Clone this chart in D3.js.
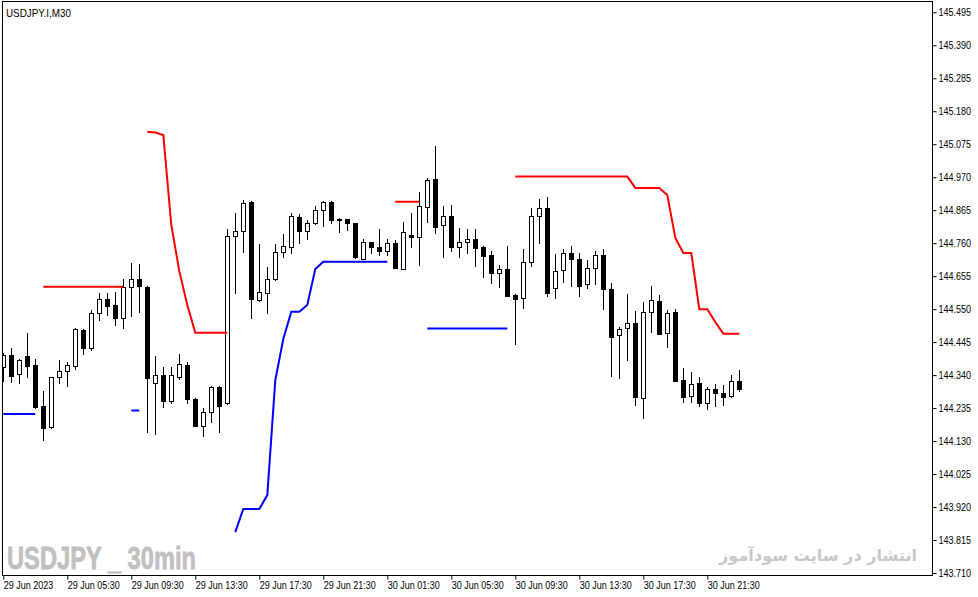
<!DOCTYPE html>
<html><head><meta charset="utf-8">
<script src="https://cdn.jsdelivr.net/npm/d3@7"></script>
<style>html,body{margin:0;padding:0;background:#fff;overflow:hidden}</style>
</head><body><svg id="c" width="978" height="597"></svg>
<script>
const symbolLabel = "USDJPY.I,M30";
const watermarkLeft = "USDJPY _ 30min";
const watermarkRight = "انتشار در سایت سودآموز";
const timeLabels = ["29 Jun 2023","29 Jun 05:30","29 Jun 09:30","29 Jun 13:30","29 Jun 17:30","29 Jun 21:30","30 Jun 01:30","30 Jun 05:30","30 Jun 09:30","30 Jun 13:30","30 Jun 17:30","30 Jun 21:30"];
const priceTicks = [145.495,145.390,145.285,145.180,145.075,144.970,144.865,144.760,144.655,144.550,144.445,144.340,144.235,144.130,144.025,143.920,143.815,143.710];

const open = [144.367,144.404,144.343,144.401,144.372,144.242,144.174,144.333,144.352,144.370,
144.483,144.427,144.537,144.581,144.563,144.523,144.621,144.646,144.622,144.314,
144.340,144.259,144.335,144.372,144.264,144.179,144.222,144.301,144.250,144.784,
144.798,144.890,144.579,144.602,144.645,144.731,144.749,144.842,144.800,144.823,
144.866,144.890,144.837,144.836,144.823,144.710,144.763,144.749,144.736,144.760,
144.679,144.785,144.781,144.874,144.963,144.817,144.846,144.749,144.763,144.773,
144.747,144.722,144.666,144.677,144.595,144.584,144.699,144.847,144.871,144.617,
144.674,144.728,144.709,144.629,144.680,144.722,144.613,144.467,144.489,144.505,
144.266,144.540,144.576,144.473,144.541,144.323,144.273,144.314,144.250,144.295,
144.283,144.273,144.320];
const high = [144.410,144.426,144.391,144.473,144.390,144.289,144.335,144.388,144.381,144.489,
144.488,144.547,144.602,144.602,144.603,144.645,144.696,144.693,144.625,144.401,
144.367,144.367,144.407,144.381,144.267,144.234,144.305,144.305,144.804,144.855,
144.897,144.895,144.757,144.685,144.757,144.789,144.857,144.853,144.834,144.878,
144.895,144.893,144.839,144.837,144.824,144.773,144.765,144.804,144.773,144.770,
144.827,144.855,144.922,144.967,145.069,144.879,144.882,144.807,144.804,144.804,
144.750,144.735,144.689,144.751,144.598,144.741,144.871,144.900,144.908,144.726,
144.741,144.751,144.728,144.707,144.735,144.741,144.632,144.493,144.598,144.544,
144.574,144.625,144.595,144.547,144.550,144.362,144.349,144.335,144.303,144.312,
144.309,144.339,144.356];
const low = [144.321,144.319,144.316,144.335,144.236,144.135,144.171,144.314,144.306,144.359,
144.407,144.420,144.515,144.532,144.499,144.491,144.528,144.542,144.158,144.154,
144.239,144.252,144.329,144.252,144.177,144.147,144.192,144.160,144.247,144.602,
144.733,144.521,144.577,144.539,144.644,144.717,144.730,144.762,144.772,144.822,
144.815,144.825,144.797,144.802,144.714,144.709,144.730,144.722,144.722,144.681,
144.677,144.749,144.690,144.828,144.791,144.717,144.736,144.717,144.730,144.688,
144.651,144.632,144.619,144.592,144.438,144.553,144.688,144.762,144.593,144.584,
144.637,144.624,144.593,144.617,144.629,144.549,144.338,144.330,144.388,144.245,
144.204,144.478,144.470,144.429,144.320,144.255,144.253,144.242,144.232,144.242,
144.245,144.271,144.290];
const close = [144.404,144.338,144.388,144.370,144.239,144.172,144.333,144.352,144.372,144.486,
144.427,144.537,144.581,144.561,144.523,144.619,144.645,144.624,144.332,144.340,
144.259,144.340,144.374,144.264,144.179,144.222,144.301,144.243,144.784,144.798,
144.887,144.581,144.604,144.645,144.731,144.751,144.846,144.800,144.823,144.866,
144.890,144.834,144.833,144.823,144.715,144.763,144.749,144.736,144.760,144.682,
144.795,144.781,144.878,144.961,144.812,144.846,144.749,144.763,144.773,144.744,
144.720,144.666,144.677,144.593,144.581,144.699,144.847,144.871,144.602,144.672,
144.728,144.709,144.624,144.680,144.722,144.613,144.462,144.486,144.505,144.269,
144.540,144.578,144.472,144.537,144.322,144.271,144.312,144.250,144.295,144.283,
144.271,144.320,144.297];

const upperStop = [null,null,null,null,null,
144.621,144.621,144.621,144.621,144.621,144.621,144.621,144.621,144.621,144.621,144.621,
null,null,
145.115,145.112,145.104,144.818,144.671,144.563,
144.475,144.475,144.475,144.475,144.475,
null,null,null,null,null,null,null,null,null,null,null,null,null,null,null,null,null,null,null,null,
144.892,144.892,144.892,144.892,
null,null,null,null,null,null,null,null,null,null,null,
144.972,144.972,144.972,144.972,144.972,144.972,144.972,144.972,144.972,144.972,144.972,144.972,144.972,144.972,144.972,
144.936,144.936,144.936,144.936,
144.913,144.777,144.729,144.729,144.550,144.550,144.509,144.472,144.472,144.472];
const lowerStop = [144.216,144.216,144.216,144.216,144.216,
null,null,null,null,null,null,null,null,null,null,null,
144.227,144.227,
null,null,null,null,null,null,null,null,null,null,null,
143.840,143.914,143.914,143.914,143.958,144.324,144.455,144.542,144.542,144.563,144.678,
144.701,144.701,144.701,144.701,144.701,144.701,144.701,144.701,144.701,
null,null,null,null,
144.488,144.488,144.488,144.488,144.488,144.488,144.488,144.488,144.488,144.488,144.488,
null,null,null,null,null,null,null,null,null,null,null,null,null,null,null,null,null,null,null,null,null,null,null,null,null,null,null,null,null];

const W = 978, H = 597;
const svg = d3.select("#c");
svg.append("rect").attr("width", W).attr("height", H).attr("fill", "#fff");

const P = {l: 2.5, t: 1.5, r: 932.5, b: 575.5};
const n = open.length;
const x = d3.scaleLinear().domain([0, n - 1]).range([3.3, 3.3 + 8 * (n - 1)]);
const y = d3.scaleLinear().domain([143.710, 145.495]).range([573, 12.3]);

svg.append("defs").append("clipPath").attr("id", "clip")
  .append("rect").attr("x", P.l).attr("y", P.t).attr("width", P.r - P.l).attr("height", P.b - P.t);

// watermarks
svg.append("text").attr("x", 7).attr("y", 568.5)
  .attr("font-family", "'Liberation Sans Narrow','Arial Narrow','Liberation Sans',sans-serif")
  .attr("font-weight", "bold").attr("font-size", 32).attr("fill", "#c0c0c0")
  .attr("stroke", "#c0c0c0").attr("stroke-width", 0.8)
  .attr("textLength", 189).attr("lengthAdjust", "spacingAndGlyphs")
  .text(watermarkLeft);
const fa = svg.append("text").attr("x", 917).attr("y", 561).attr("text-anchor", "end")
  .attr("font-family", "'DejaVu Sans',sans-serif").attr("font-weight", "bold")
  .attr("font-size", 19).attr("fill", "#c8c8c8")
  .text(watermarkRight);
// keep the Persian watermark inside its reference span (x 718 .. 917)
const faBox = fa.node().getBBox();
if (faBox.x < 700 || faBox.x + faBox.width > 925) {
  const s = 199 / faBox.width;
  fa.attr("font-size", 19 * s);
}

const g = svg.append("g").attr("clip-path", "url(#clip)");
const bars = d3.range(n).map(i => ({i, o: open[i], h: high[i], l: low[i], c: close[i]}));
const cx = d => Math.round(x(d.i));

g.selectAll("line.wick").data(bars).join("line").attr("class", "wick")
  .attr("x1", d => cx(d) + 0.5).attr("x2", d => cx(d) + 0.5)
  .attr("y1", d => Math.round(y(d.h))).attr("y2", d => Math.round(y(d.l)) + 1)
  .attr("stroke", "#000").attr("stroke-width", 1);

g.selectAll("rect.body").data(bars).join("rect").attr("class", "body")
  .each(function(d) {
    const top = Math.round(y(Math.max(d.o, d.c)));
    const bot = Math.round(y(Math.min(d.o, d.c)));
    const s = d3.select(this);
    if (d.c >= d.o) {
      s.attr("x", cx(d) - 1.5).attr("y", top + 0.5).attr("width", 4).attr("height", Math.max(bot - top, 1))
        .attr("fill", "#fff").attr("stroke", "#000").attr("stroke-width", 1);
    } else {
      s.attr("x", cx(d) - 2).attr("y", top).attr("width", 5).attr("height", Math.max(bot - top + 1, 2))
        .attr("fill", "#000");
    }
  });

const line = d3.line().defined(d => d.v != null).x(d => x(d.i)).y(d => y(d.v));
g.append("path").datum(upperStop.map((v, i) => ({i, v})))
  .attr("d", line).attr("fill", "none").attr("stroke", "#ff0000").attr("stroke-width", 2);
g.append("path").datum(lowerStop.map((v, i) => ({i, v})))
  .attr("d", line).attr("fill", "none").attr("stroke", "#0000ff").attr("stroke-width", 2);

// frame
svg.append("rect").attr("x", P.l).attr("y", P.t).attr("width", P.r - P.l).attr("height", P.b - P.t)
  .attr("fill", "none").attr("stroke", "#000").attr("stroke-width", 1);

// axes
const fontFam = "'Liberation Sans',Arial,sans-serif";
const yAxis = svg.append("g").attr("transform", `translate(${P.r},0)`)
  .call(d3.axisRight(y).tickValues(priceTicks).tickSize(4).tickPadding(2).tickFormat(d3.format(".3f")));
yAxis.select(".domain").remove();
yAxis.selectAll("text").attr("font-family", fontFam).attr("font-size", 10).attr("fill", "#000");

const xAxis = svg.append("g").attr("transform", `translate(0,${P.b})`)
  .call(d3.axisBottom(x).tickValues(timeLabels.map((_, k) => k * 8)).tickSize(4)
    .tickFormat((d, k) => timeLabels[k]));
xAxis.select(".domain").remove();
xAxis.selectAll("text").attr("font-family", fontFam).attr("font-size", 10).attr("fill", "#000")
  .attr("text-anchor", "start").attr("x", 0).attr("dy", "0").attr("y", 13.5);

svg.selectAll(".tick text").each(function() {
  const L = this.getComputedTextLength();
  d3.select(this).attr("textLength", L * 0.9).attr("lengthAdjust", "spacingAndGlyphs");
});

svg.append("text").attr("x", 6).attr("y", 16.5).attr("font-family", fontFam).attr("font-size", 10.5)
  .attr("fill", "#000").attr("textLength", 65).attr("lengthAdjust", "spacingAndGlyphs").text(symbolLabel);
</script></body></html>
